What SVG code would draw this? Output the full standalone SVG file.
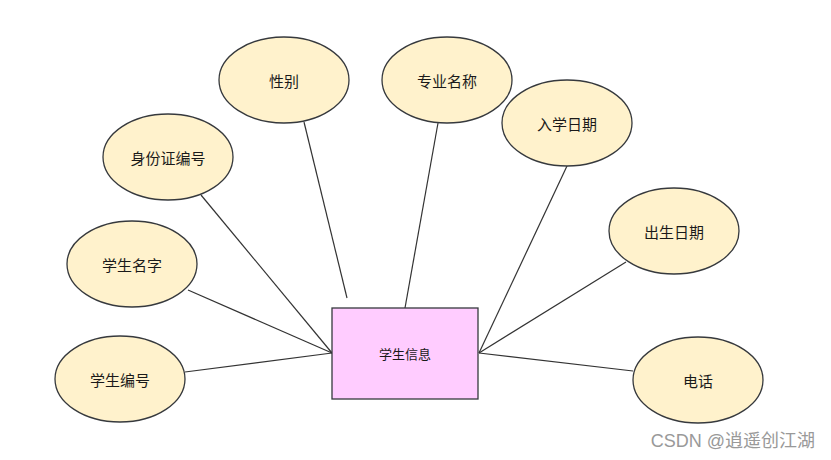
<svg xmlns="http://www.w3.org/2000/svg" width="831" height="460" viewBox="0 0 831 460">
<style>
.n ellipse{fill:#fff2cc;stroke:#36393d;stroke-width:1.3}
.n rect{fill:#ffccff;stroke:#36393d;stroke-width:1.3}
text{font-family:"Noto Sans CJK SC","Liberation Sans",sans-serif;font-size:15px;fill:#1a1a1a;text-anchor:middle;dominant-baseline:central}
.e line{stroke:#333;stroke-width:1.2}
</style>
<rect width="831" height="460" fill="#fff"/>
<g class="e" id="connectors">
<line x1="304" y1="122" x2="347" y2="298"/>
<line x1="438" y1="123" x2="405" y2="308"/>
<line x1="567" y1="166" x2="479" y2="353"/>
<line x1="201" y1="195" x2="332" y2="353"/>
<line x1="188" y1="290" x2="332" y2="353"/>
<line x1="185" y1="372" x2="332" y2="353"/>
<line x1="626" y1="262" x2="479" y2="353"/>
<line x1="633" y1="371" x2="479" y2="353"/>
</g>
<g class="n" id="xingbie"><ellipse cx="284" cy="80" rx="65" ry="43"/><text x="284" y="80">性别</text></g>
<g class="n" id="zhuanye"><ellipse cx="447" cy="80" rx="65" ry="43"/><text x="447" y="80">专业名称</text></g>
<g class="n" id="ruxue"><ellipse cx="567" cy="123" rx="65" ry="43"/><text x="567" y="123">入学日期</text></g>
<g class="n" id="shenfen"><ellipse cx="168" cy="157" rx="65" ry="43"/><text x="168" y="157">身份证编号</text></g>
<g class="n" id="chusheng"><ellipse cx="674" cy="231" rx="65" ry="43"/><text x="674" y="231">出生日期</text></g>
<g class="n" id="mingzi"><ellipse cx="132" cy="264" rx="65" ry="43"/><text x="132" y="264">学生名字</text></g>
<g class="n" id="bianhao"><ellipse cx="120" cy="379" rx="65" ry="43"/><text x="120" y="379">学生编号</text></g>
<g class="n" id="dianhua"><ellipse cx="698" cy="380" rx="65" ry="43"/><text x="698" y="380">电话</text></g>
<g class="n" id="xuesheng"><rect x="332" y="308" width="146" height="91"/><text x="405" y="353.5" style="font-size:13px">学生信息</text></g>
<text x="815" y="441" style="font-family:'Liberation Sans','Noto Sans CJK SC',sans-serif;font-size:18px;fill:#999;text-anchor:end">CSDN @逍遥创江湖</text>
</svg>
